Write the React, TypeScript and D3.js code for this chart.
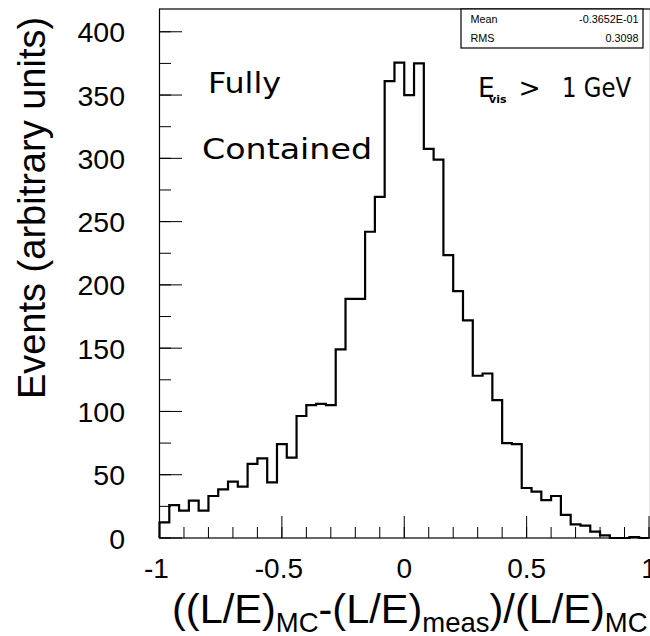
import React from "react";
import * as d3 from "d3";

// Histogram: 50 bins of width 0.04 from -1 to 1
const binLow = -1;
const binWidth = 0.04;
const counts = [
  12.4, 26, 21.6, 29.5, 21.6, 33.2, 38.4, 44.5, 40.6, 58.5,
  62.9, 44, 74.2, 63.5, 96.4, 105, 106, 105, 149, 189,
  189, 242, 269.6, 361, 375.7, 350, 375, 307.5, 299, 223.5,
  195, 172, 128.2, 130, 109, 75, 74.2, 39.5, 36.6, 30,
  33.2, 18.2, 10.8, 9.7, 5, 2.1, 0, 0, 0.8, 0,
];
const xMajorTicks = [-1, -0.5, 0, 0.5, 1];
const xTickLabels = ["-1", "-0.5", "0", "0.5", "1"];
const xMinorTicks = d3.range(-10, 11).map((i) => i / 10);
const yMajorTicks = [0, 50, 100, 150, 200, 250, 300, 350, 400];
const yMinorTicks = d3.range(0, 17).map((i) => i * 25);
const statNames = ["Mean", "RMS"];
const statValues = ["-0.3652E-01", "0.3098"];

const W = 650;
const H = 636;
const left = 159.5;
const right = 649;
const top = 9;
const bottom = 538;

export default function App() {
  const x = d3.scaleLinear().domain([-1, 1]).range([left, right]);
  const y = d3.scaleLinear().domain([0, 418]).range([bottom, top]);

  const p = d3.path();
  p.moveTo(x(binLow), y(0));
  counts.forEach((c, i) => {
    const x0 = binLow + i * binWidth;
    p.lineTo(x(x0), y(c));
    p.lineTo(x(x0 + binWidth), y(c));
  });
  p.lineTo(x(binLow + counts.length * binWidth), y(0));

  const tickFont = "'Liberation Sans', Arial, Helvetica, sans-serif";
  const textFont = "'DejaVu Sans', sans-serif";

  return (
    <svg
      width={W}
      height={H}
      style={{ position: "absolute", left: 0, top: 0, display: "block", background: "#fff" }}
    >
      <rect x={0} y={0} width={W} height={H} fill="#fff" />
      {/* frame */}
      <rect
        x={left}
        y={top}
        width={right + 1.5 - left}
        height={bottom - top}
        fill="none"
        stroke="#000"
        strokeWidth={1.2}
      />
      {/* histogram */}
      <path d={p.toString()} fill="none" stroke="#000" strokeWidth={2.2} strokeLinejoin="miter" />

      {/* x ticks */}
      {xMinorTicks.map((t) => (
        <line key={"xm" + t} x1={x(t)} x2={x(t)} y1={bottom} y2={bottom - 11} stroke="#000" strokeWidth={1} />
      ))}
      {xMajorTicks.map((t) => (
        <line key={"xM" + t} x1={x(t)} x2={x(t)} y1={bottom} y2={bottom - 22} stroke="#000" strokeWidth={1} />
      ))}
      {xMajorTicks.map((t, i) => (
        <text
          key={"xl" + t}
          x={x(t) - (t < 0 ? 3 : 0)}
          y={578}
          textAnchor="middle"
          fontFamily={tickFont}
          fontSize={28}
        >
          {xTickLabels[i]}
        </text>
      ))}

      {/* y ticks */}
      {yMinorTicks.map((t) => (
        <line key={"ym" + t} x1={left} x2={left + 11.5} y1={y(t)} y2={y(t)} stroke="#000" strokeWidth={1} />
      ))}
      {yMajorTicks.map((t) => (
        <line key={"yM" + t} x1={left} x2={left + 22.5} y1={y(t)} y2={y(t)} stroke="#000" strokeWidth={1} />
      ))}
      {yMajorTicks.map((t) => (
        <text
          key={"yl" + t}
          x={125}
          y={y(t) + 10.5}
          textAnchor="end"
          fontFamily={tickFont}
          fontSize={28.5}
        >
          {t}
        </text>
      ))}

      {/* axis titles */}
      <text
        transform="translate(45,208) rotate(-90)"
        textAnchor="middle"
        fontFamily={tickFont}
        fontSize={38}
      >
        Events (arbitrary units)
      </text>
      <text x={172} y={622.5} fontFamily={tickFont} fontSize={41.5}>
        <tspan>((L/E)</tspan>
        <tspan fontSize={27.5} dy={9}>MC</tspan>
        <tspan dy={-9}>-(L/E)</tspan>
        <tspan fontSize={27.5} dy={9}>meas</tspan>
        <tspan dy={-9}>)/(L/E)</tspan>
        <tspan fontSize={27.5} dy={9}>MC</tspan>
      </text>

      {/* annotations */}
      <text x={208} y={92.7} fontFamily={textFont} fontSize={28} textLength={73} lengthAdjust="spacingAndGlyphs">
        Fully
      </text>
      <text x={202} y={158.7} fontFamily={textFont} fontSize={29} textLength={170} lengthAdjust="spacingAndGlyphs">
        Contained
      </text>
      <text x={478} y={96.7} fontFamily={textFont} fontSize={26.5}>
        E
      </text>
      <text x={489} y={103} fontFamily={textFont} fontSize={11} fontWeight="bold">
        vis
      </text>
      <text x={518.5} y={96.7} fontFamily={textFont} fontSize={26.5}>
        &gt;
      </text>
      <text x={562} y={96.7} fontFamily={textFont} fontSize={26.5} textLength={69} lengthAdjust="spacingAndGlyphs">
        1 GeV
      </text>

      {/* stats box */}
      <rect x={461} y={top} width={182} height={39} fill="#fff" stroke="#000" strokeWidth={1.2} />
      {statNames.map((n, i) => (
        <g key={n}>
          <text x={470.5} y={22.7 + i * 19} fontFamily={tickFont} fontSize={10.8}>
            {n}
          </text>
          <text x={638.5} y={22.7 + i * 19} textAnchor="end" fontFamily={tickFont} fontSize={10.8}>
            {statValues[i]}
          </text>
        </g>
      ))}
    </svg>
  );
}
